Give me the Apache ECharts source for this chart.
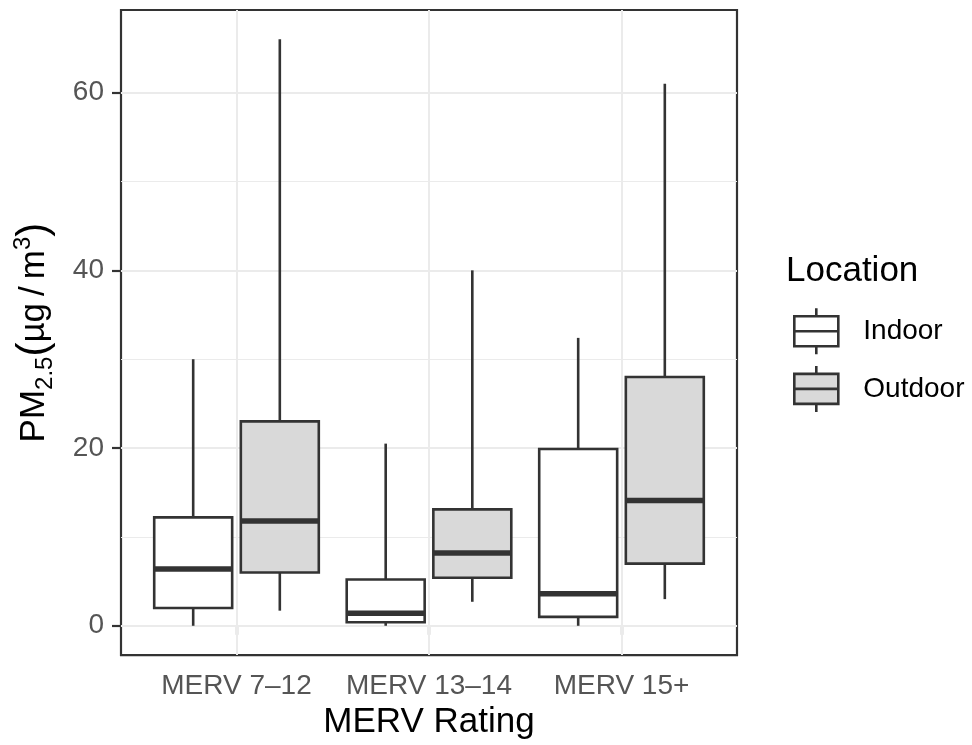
<!DOCTYPE html>
<html>
<head>
<meta charset="utf-8">
<script src="https://cdn.jsdelivr.net/npm/echarts@6/dist/echarts.min.js"></script>
<style>html,body{margin:0;padding:0;background:#fff;}#c{width:972px;height:745px;}</style>
</head>
<body>
<div id="c"></div>
<script>
// ---- data ----
var categories = ['MERV 7\u201312', 'MERV 13\u201314', 'MERV 15+'];
// [min, q1, median, q3, max]
var indoorStats = [
  [0, 2.0, 6.4, 12.2, 30.0],
  [0, 0.4, 1.4, 5.2, 20.5],
  [0, 1.0, 3.6, 19.9, 32.4]
];
var outdoorStats = [
  [1.7, 6.0, 11.8, 23.0, 66.0],
  [2.7, 5.4, 8.2, 13.1, 40.0],
  [3.0, 7.0, 14.1, 28.0, 61.0]
];
var yMajorTicks = [0, 20, 40, 60];
var yMinorLines = [10, 30, 50];
var seriesNames = ['Indoor', 'Outdoor'];

// ---- styling constants ----
var FONT = '"Liberation Sans", Arial, Helvetica, sans-serif';
var STROKE = '#333333';
var LW = 2.6;
var MED_LW = 5.5;
var DODGE = 0.225;
var HALF = 0.2025;
var catPos = categories.map(function (c, i) { return i + 1; });

function toData(stats) {
  return stats.map(function (s, i) { return [i].concat(s); });
}

function makeRender(offset, fill) {
  return function (params, api) {
    var x = api.value(0) + 1 + offset;
    var pMin = api.coord([x, api.value(1)]);
    var pQ1 = api.coord([x, api.value(2)]);
    var pMed = api.coord([x, api.value(3)]);
    var pQ3 = api.coord([x, api.value(4)]);
    var pMax = api.coord([x, api.value(5)]);
    var half = api.size([HALF, 0])[0];
    var cx = pMed[0];
    var ls = { stroke: STROKE, lineWidth: LW };
    return {
      type: 'group',
      children: [
        { type: 'line', shape: { x1: cx, y1: pMin[1], x2: cx, y2: pQ1[1] }, style: ls },
        { type: 'line', shape: { x1: cx, y1: pQ3[1], x2: cx, y2: pMax[1] }, style: ls },
        { type: 'rect', shape: { x: cx - half, y: pQ3[1], width: 2 * half, height: pQ1[1] - pQ3[1] },
          style: { fill: fill, stroke: STROKE, lineWidth: LW } },
        { type: 'line', shape: { x1: cx - half, y1: pMed[1], x2: cx + half, y2: pMed[1] },
          style: { stroke: STROKE, lineWidth: MED_LW } }
      ]
    };
  };
}

var ICON = 'path://M0,8L44,8L44,38L0,38Z M0,23L44,23 M22,0L22,8 M22,38L22,46';

var gridLineData = []
  .concat(yMajorTicks.map(function (v) { return { yAxis: v, lineStyle: { width: 2, color: '#EBEBEB', type: 'solid' } }; }))
  .concat(yMinorLines.map(function (v) { return { yAxis: v, lineStyle: { width: 1.2, color: '#EBEBEB', type: 'solid' } }; }))
  .concat(catPos.map(function (v) { return { xAxis: v, lineStyle: { width: 2, color: '#EBEBEB', type: 'solid' } }; }));

var chart = echarts.init(document.getElementById('c'), null, { renderer: 'canvas' });
chart.setOption({
  animation: false,
  backgroundColor: '#ffffff',
  textStyle: { fontFamily: FONT },
  title: {
    text: 'Location',
    left: 786,
    top: 254,
    padding: 0,
    textStyle: { fontFamily: FONT, fontSize: 35, fontWeight: 'normal', color: '#000' }
  },
  legend: {
    orient: 'vertical',
    left: 793,
    top: 307,
    padding: 0,
    itemWidth: 44,
    itemHeight: 46,
    itemGap: 9,
    selectedMode: false,
    textStyle: { fontFamily: FONT, fontSize: 28, color: '#000', padding: [0, 0, 0, 20] },
    data: [
      { name: seriesNames[0], icon: ICON, itemStyle: { color: '#FFFFFF', borderColor: STROKE, borderWidth: LW } },
      { name: seriesNames[1], icon: ICON, itemStyle: { color: '#D9D9D9', borderColor: STROKE, borderWidth: LW } }
    ]
  },
  grid: {
    left: 121, right: 235, top: 10, bottom: 89,
    show: true, backgroundColor: '#fff', borderColor: STROKE, borderWidth: 2.2
  },
  xAxis: {
    type: 'value',
    min: 0.4, max: 3.6,
    name: 'MERV Rating',
    nameLocation: 'middle',
    nameGap: 48,
    nameTextStyle: { fontFamily: FONT, fontSize: 35, color: '#000' },
    axisLine: { show: false },
    splitLine: { show: false },
    axisTick: { show: true, length: 9, customValues: catPos, lineStyle: { color: STROKE, width: 2.2 } },
    axisLabel: {
      customValues: catPos,
      margin: 17,
      fontFamily: FONT, fontSize: 28, color: '#555555',
      formatter: function (v) { return categories[Math.round(v) - 1] || ''; }
    }
  },
  yAxis: {
    type: 'value',
    min: -3.3, max: 69.3,
    name: '{a|PM}{s|2.5}{b|(}{a|\u00b5g\u2009/\u2009m}{p|3}{b|)}',
    nameLocation: 'middle',
    nameRotate: 90,
    nameGap: 64,
    nameTextStyle: {
      fontFamily: FONT, color: '#000',
      rich: {
        a: { fontFamily: FONT, fontSize: 35, color: '#000', lineHeight: 46 },
        b: { fontFamily: FONT, fontSize: 42, color: '#000', lineHeight: 46 },
        s: { fontFamily: FONT, fontSize: 24, color: '#000', lineHeight: 24, verticalAlign: 'bottom' },
        p: { fontFamily: FONT, fontSize: 24, color: '#000', lineHeight: 24, verticalAlign: 'top' }
      }
    },
    axisLine: { show: false },
    splitLine: { show: false },
    axisTick: { show: true, length: 9, customValues: yMajorTicks, lineStyle: { color: STROKE, width: 2.2 } },
    axisLabel: {
      customValues: yMajorTicks,
      margin: 17,
      fontFamily: FONT, fontSize: 28, color: '#555555'
    }
  },
  series: [
    {
      name: '_grid',
      type: 'line',
      data: [],
      z: 1,
      silent: true,
      markLine: { silent: true, symbol: ['none', 'none'], label: { show: false }, animation: false, data: gridLineData }
    },
    {
      name: seriesNames[0],
      type: 'custom',
      z: 5,
      itemStyle: { color: '#FFFFFF', borderColor: STROKE },
      encode: { x: 0, y: [1, 2, 3, 4, 5] },
      renderItem: makeRender(-DODGE, '#FFFFFF'),
      data: toData(indoorStats)
    },
    {
      name: seriesNames[1],
      type: 'custom',
      z: 5,
      itemStyle: { color: '#D9D9D9', borderColor: STROKE },
      encode: { x: 0, y: [1, 2, 3, 4, 5] },
      renderItem: makeRender(DODGE, '#D9D9D9'),
      data: toData(outdoorStats)
    }
  ]
});
</script>
</body>
</html>
